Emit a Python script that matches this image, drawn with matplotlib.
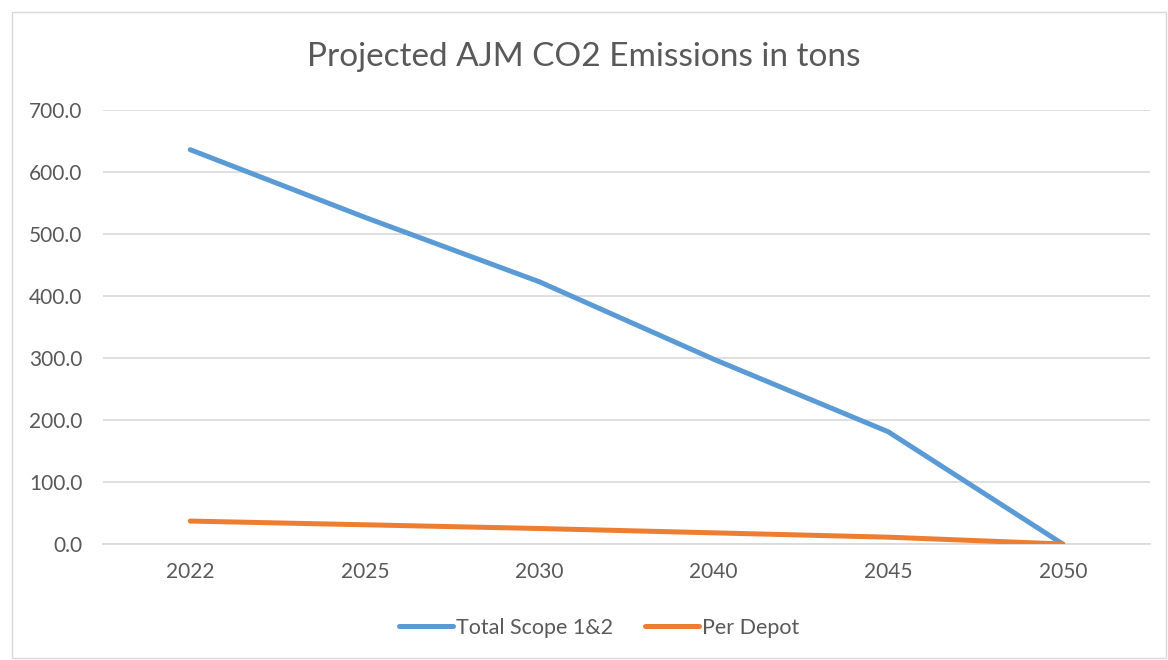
import matplotlib.pyplot as plt
from matplotlib.patches import Rectangle

years = ["2022", "2025", "2030", "2040", "2045", "2050"]
total_scope = [636.0, 527.0, 423.0, 298.0, 181.0, 0.0]
per_depot = [37.0, 31.0, 25.0, 18.0, 11.0, 0.0]
y_ticks = [0, 100, 200, 300, 400, 500, 600, 700]

plt.rcParams['font.family'] = ['Lato', 'DejaVu Sans']
text_color = '#595959'

fig = plt.figure(figsize=(11.68, 6.6), dpi=100)
ax = fig.add_axes([103 / 1168, 1 - 544 / 660, (1150 - 103) / 1168, (544 - 110) / 660])

x = list(range(len(years)))
ax.plot(x, total_scope, color='#5B9BD5', lw=3.6, solid_capstyle='round',
        solid_joinstyle='round', label='Total Scope 1&2', zorder=3)
ax.plot(x, per_depot, color='#ED7D31', lw=3.6, solid_capstyle='round',
        solid_joinstyle='round', label='Per Depot', zorder=3)

ax.set_xlim(-0.5, len(years) - 0.5)
ax.set_ylim(0, 700)
ax.set_xticks(x)
ax.set_xticklabels(years)
ax.set_yticks(y_ticks)
ax.set_yticklabels([f"{v:.1f}" for v in y_ticks])
ax.tick_params(axis='both', length=0, labelsize=15, colors=text_color)
ax.tick_params(axis='x', pad=13)
ax.tick_params(axis='y', pad=15)
ax.grid(axis='y', color='#D9D9D9', lw=1.2, zorder=0)
for side in ['top', 'right', 'left']:
    ax.spines[side].set_visible(False)
ax.spines['bottom'].set_color('#D9D9D9')
ax.spines['bottom'].set_linewidth(1.2)

fig.text(0.5, 1 - 57 / 660, "Projected AJM CO2 Emissions in tons", ha='center', va='center',
         fontsize=24, color=text_color)

fig.legend(loc='center', bbox_to_anchor=(599 / 1168, 1 - 628 / 660), ncol=2, frameon=False,
           fontsize=15.5, labelcolor=text_color, handlelength=2.5, handletextpad=0.15,
           columnspacing=1.5)

fig.patches.append(Rectangle((12 / 1168, 2 / 660), 1154 / 1168, 646 / 660,
                             transform=fig.transFigure, fill=False, edgecolor='#D9D9D9', lw=1))

fig.savefig("out.png", dpi=100)
